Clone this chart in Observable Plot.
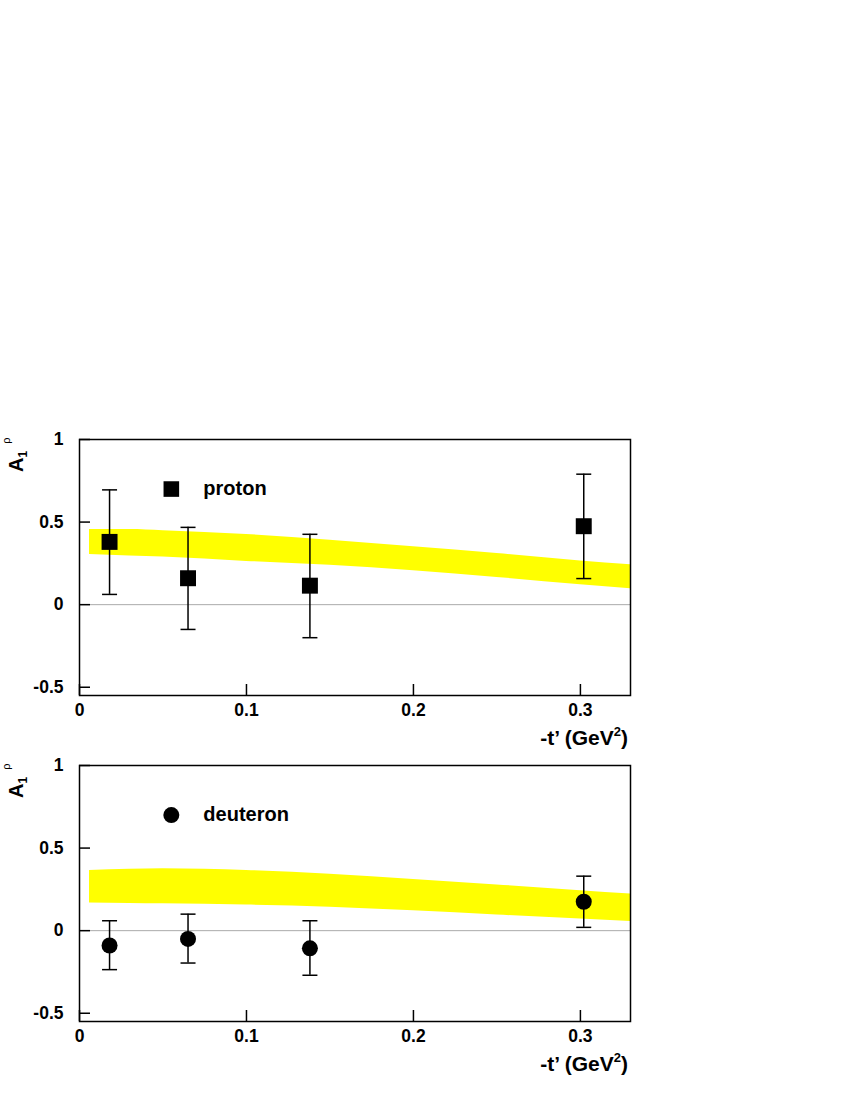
<!DOCTYPE html>
<html><head><meta charset="utf-8">
<script src="https://cdn.jsdelivr.net/npm/d3@7"></script>
<script src="https://cdn.jsdelivr.net/npm/@observablehq/plot@0.6"></script>
<style>
body{margin:0;background:#fff;}
#wrap{position:relative;width:850px;height:1100px;font-family:"Liberation Sans",Arial,sans-serif;}
.panel{position:absolute;left:0;}
#labels{position:absolute;left:0;top:0;pointer-events:none;}
</style></head><body><div id="wrap"></div>
<script>
// ---- data ----
const xDomain = [0, 0.33];
const yDomain = [-0.55, 1];
const xTicks = [0, 0.1, 0.2, 0.3];
const yTicks = [-0.5, 0, 0.5, 1];
const tBins = [0.018, 0.065, 0.138, 0.302];
const protonA  = [0.38, 0.16, 0.115, 0.475];
const protonHi = [0.695, 0.468, 0.426, 0.79];
const protonLo = [0.062, -0.15, -0.2, 0.158];
const deuteronA  = [-0.09, -0.05, -0.107, 0.175];
const deuteronHi = [0.06, 0.10, 0.06, 0.33];
const deuteronLo = [-0.236, -0.196, -0.27, 0.02];
const bandT = [0.006, 0.03, 0.05, 0.1, 0.15, 0.2, 0.25, 0.3, 0.33];
const protonBandHi = [0.455, 0.455, 0.448, 0.425, 0.39, 0.35, 0.31, 0.265, 0.242];
const protonBandLo = [0.303, 0.295, 0.288, 0.262, 0.238, 0.205, 0.165, 0.12, 0.097];
const deuteronBandHi = [0.364, 0.372, 0.375, 0.365, 0.342, 0.31, 0.277, 0.242, 0.222];
const deuteronBandLo = [0.168, 0.165, 0.163, 0.155, 0.142, 0.12, 0.095, 0.07, 0.055];
const legendT = [0.055];
const legendA = [0.7];
const legendNames = ["proton", "deuteron"];
const legendSymbols = ["square", "circle"];

const FONT = '"Liberation Sans", Arial, sans-serif';
const cap = {draw(ctx) { ctx.moveTo(-7.5, 0); ctx.lineTo(7.5, 0); }};

function panel(top, A, Hi, Lo, BHi, BLo, name, symbol) {
  const pts = tBins.map((t, i) => ({t, a: A[i], hi: Hi[i], lo: Lo[i]}));
  const band = bandT.map((t, i) => ({t, hi: BHi[i], lo: BLo[i]}));
  const leg = legendT.map((t, i) => ({t, a: legendA[i], name}));
  const isSq = symbol === "square";
  const plot = Plot.plot({
    width: 850, height: 335,
    marginTop: 19, marginBottom: 60, marginLeft: 79, marginRight: 220,
    x: {domain: xDomain},
    y: {domain: yDomain},
    style: {fontFamily: FONT, fontSize: "17.5px", fontWeight: "bold", color: "black", background: "transparent", overflow: "visible"},
    marks: [
      Plot.areaY(band, {x: "t", y1: "lo", y2: "hi", fill: "#ffff00", curve: "monotone-x"}),
      Plot.ruleY([0], {stroke: "#aaaaaa", strokeWidth: 1}),
      Plot.ruleX(pts, {x: "t", y1: "lo", y2: "hi", stroke: "black", strokeWidth: 1.5}),
      Plot.dot(pts, {x: "t", y: "hi", symbol: cap, stroke: "black", strokeWidth: 1.5}),
      Plot.dot(pts, {x: "t", y: "lo", symbol: cap, stroke: "black", strokeWidth: 1.5}),
      Plot.dot(pts, {x: "t", y: "a", symbol: symbol, fill: "black", stroke: "none", r: isSq ? 9 : 8}),
      Plot.dot(leg, {x: "t", y: "a", symbol: symbol, fill: "black", stroke: "none", r: isSq ? 8.8 : 8}),
      Plot.text(leg, {x: "t", y: "a", text: "name", dx: 32, textAnchor: "start", fontSize: 20, fontWeight: "bold", fill: "black"}),
      Plot.frame({stroke: "black", strokeWidth: 1.5}),
      Plot.axisX({ticks: xTicks, tickSize: -11, tickPadding: 19, strokeWidth: 1.5, tickFormat: d => String(d), label: null}),
      Plot.axisY({ticks: yTicks, tickSize: -11, tickPadding: 27, strokeWidth: 1.5, tickFormat: d => String(d), label: null})
    ]
  });
  plot.classList.add("panel");
  plot.style.top = top + "px";
  document.getElementById("wrap").appendChild(plot);
}

panel(420, protonA, protonHi, protonLo, protonBandHi, protonBandLo, legendNames[0], legendSymbols[0]);
panel(746, deuteronA, deuteronHi, deuteronLo, deuteronBandHi, deuteronBandLo, legendNames[1], legendSymbols[1]);

// axis titles
const svg = d3.select("#wrap").append("svg").attr("id", "labels")
  .attr("width", 850).attr("height", 1100)
  .style("font-family", FONT);
[[472, 745], [798, 1071]].forEach(([yA, yX]) => {
  const t = svg.append("text").attr("transform", `translate(23,${yA}) rotate(-90)`)
    .attr("font-size", 20).attr("font-weight", "bold");
  t.append("tspan").text("A");
  t.append("tspan").attr("font-size", 12).attr("dy", 4).text("1");
  t.append("tspan").attr("font-size", 11).attr("font-weight", "normal").attr("dx", 7).attr("dy", -17).text("ρ");
  const x = svg.append("text").attr("x", 628).attr("y", yX).attr("text-anchor", "end")
    .attr("font-size", 21).attr("font-weight", "bold");
  x.append("tspan").text("-t’ (GeV");
  x.append("tspan").attr("font-size", 13).attr("dy", -9).text("2");
  x.append("tspan").attr("dy", 9).text(")");
});
</script></body></html>
